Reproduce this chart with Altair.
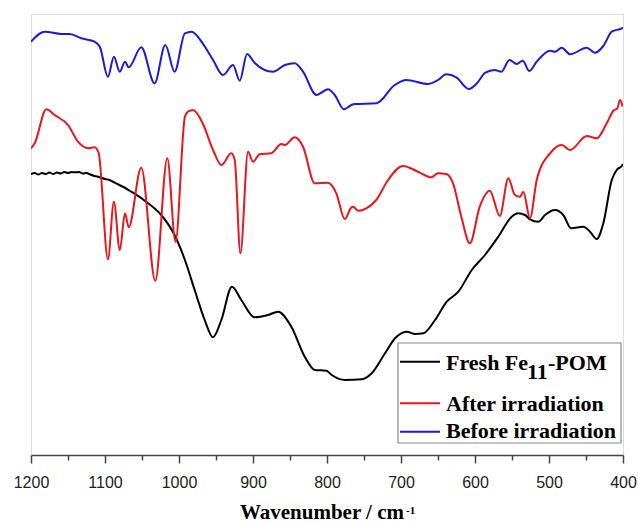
import altair as alt
import pandas as pd

# ---- data (wavenumber in cm-1, transmittance in arbitrary units) ----
wn_fresh = [1200, 1195, 1190, 1185, 1180, 1175, 1170, 1165, 1160, 1155, 1150, 1145, 1141, 1135,
            1130, 1125, 1120, 1114, 1108, 1100, 1094, 1087, 1075, 1064.5, 1046.3, 1024, 1006, 992,
            978.8, 965.3, 954, 942.8, 928.4, 915.8, 897.7, 879.7, 866.2, 848.2, 830.1, 816.6, 801,
            793.6, 775.7, 753, 739.6, 721.6, 708, 692.3, 681, 669.8, 654, 638.2, 622.5, 604.4,
            586.5, 568.5, 550.4, 541.5, 532.4, 525.7, 514.4, 505.4, 491.9, 480.7, 470.2, 453.6,
            444.6, 435.5, 426.6, 415.2, 408.5, 401.7, 400]
t_fresh = [281, 282, 280.5, 282, 281, 282.5, 281, 282.5, 281.5, 283, 282, 283, 282.7, 283,
           281.5, 282, 280.5, 279, 278, 276, 275, 272.3, 268, 263.3, 254.3, 240, 220, 195,
           165, 135, 117.7, 135, 168.3, 155, 137.7, 140, 143.3, 128.3, 98.3, 85, 84.3,
           80, 75, 75.7, 81.7, 101.7, 116.7, 123.3, 121, 121.7, 135, 153.3, 163.3, 185,
           200, 218.3, 238.3, 241.7, 240, 235.7, 233.3, 240, 245, 240, 226.7, 228.3,
           223.3, 216, 231.7, 275, 285, 289, 291]

wn_after = [1200, 1195, 1179.3, 1168, 1150, 1136.5, 1123, 1114, 1108.5, 1096, 1088, 1080, 1073,
            1068, 1051, 1032, 1015.8, 1004.7, 992, 987.8, 981, 968, 954, 942.8, 929.3, 924.7,
            917, 906.7, 900, 891, 875.3, 861.7, 857, 843.6, 832.4, 816.6, 798.6, 787.4, 776,
            767, 764.8, 758, 746.9, 733.4, 717.5, 697.3, 677, 659, 650, 638.8, 629.7, 618.5,
            607, 593.6, 580, 566.5, 555, 546, 539, 534.7, 525.7, 516.6, 498.6, 482.8, 471.6,
            449, 435.5, 422, 413, 407.7, 404, 400.4]
t_after = [306.7, 311.7, 345.7, 340, 330, 313.3, 306.7, 307.7, 301.7, 195.7, 253.3, 205, 241.7,
           227.7, 287.3, 174.3, 296.7, 213.3, 338.3, 343.3, 345, 331.7, 305, 290, 301.7, 295,
           201.7, 303.3, 293.3, 300.7, 301.7, 311, 310, 317.7, 308.3, 271.7, 272.3, 261.7, 236,
           247.7, 248.3, 244.3, 246.7, 255, 275, 289, 283.3, 277.7, 281.7, 281, 271.7, 238.3,
           211.7, 248.3, 264.3, 239, 276.7, 260, 258.3, 263.3, 236.7, 275, 301.7, 310, 305,
           319, 316.7, 331.7, 344.3, 346.7, 355, 348.3]

wn_before = [1200, 1181.5, 1159, 1147.7, 1132, 1114, 1107, 1096, 1088, 1080, 1073, 1068, 1051,
             1033, 1018.5, 1006, 992, 983, 968, 954, 940.5, 927, 918, 908, 898, 873, 857,
             843.6, 832.4, 814.4, 798.6, 789.6, 777, 767, 762.6, 733.4, 708.5, 692.8, 663.5,
             650, 638.8, 625.2, 608.5, 598.2, 586, 573.4, 564.4, 553.4, 543.6, 535.5, 526.6,
             516.6, 498.6, 491.9, 482.8, 471.6, 449, 437.8, 426.6, 415.2, 401.7, 400]
t_before = [413.3, 423.3, 421, 421, 416.7, 413.3, 408.3, 378.3, 398.3, 383.3, 393.3, 387.7, 407.7,
            371.7, 410, 383.3, 421.7, 423.3, 411.7, 395, 380, 390, 374.3, 401, 392.3, 383.3, 390,
            391.7, 383.3, 360, 365.7, 360, 345.7, 350, 351, 351.7, 370, 375, 371,
            375, 380.7, 377.7, 366, 371, 382.3, 385, 383.3, 395, 391, 394.3, 384,
            393.3, 404.3, 403.3, 407.3, 400.7, 407.3, 402.3, 409, 423.3, 426.7, 427.5]

series_names = ["Fresh Fe11-POM", "After irradiation", "Before irradiation"]
series_colors = ["#000000", "#e8161b", "#1a1ad8"]
x_ticks = list(range(400, 1201, 50))

rows = []
for name, xs, ys in [(series_names[0], wn_fresh, t_fresh),
                     (series_names[1], wn_after, t_after),
                     (series_names[2], wn_before, t_before)]:
    rows += [{"series": name, "wn": x, "t": y} for x, y in zip(xs, ys)]
df = pd.DataFrame(rows)

W, H = 592, 441
one = pd.DataFrame({"k": [0]})

lines = alt.Chart(df).mark_line(strokeWidth=2, interpolate="monotone", clip=True).encode(
    x=alt.X("wn:Q",
            scale=alt.Scale(domain=[1200, 400], nice=False, zero=False),
            axis=alt.Axis(values=x_ticks, title=None, format="d", grid=False,
                          labelFlush=False, labelOverlap=False, labelBound=False,
                          labelExpr="datum.value % 100 === 0 ? datum.label : ''",
                          tickSize={"condition": {"test": "datum.value % 100 === 0", "value": 8},
                                    "value": 5},
                          labelFont="Liberation Sans", labelFontSize=16, labelColor="#222222",
                          labelPadding=11, domainColor="#444444", domainWidth=1.5,
                          tickColor="#444444", tickWidth=1.5)),
    y=alt.Y("t:Q", scale=alt.Scale(domain=[0, 441], nice=False, zero=False), axis=None),
    color=alt.Color("series:N", scale=alt.Scale(domain=series_names, range=series_colors),
                    legend=None),
)

font = "Liberation Serif"
layers = [lines]

# legend box
layers.append(alt.Chart(one).mark_rect(fill="white", stroke="#8a8a8a", strokeWidth=1.2).encode(
    x=alt.value(367), x2=alt.value(590), y=alt.value(329), y2=alt.value(429)))
legend_y = [347.7, 389.3, 417.7]
legend_base = [355.5, 396.5, 424]
for c, ly in zip(series_colors, legend_y):
    layers.append(alt.Chart(one).mark_rule(color=c, strokeWidth=2).encode(
        x=alt.value(369), x2=alt.value(409), y=alt.value(ly)))

txt = dict(font=font, fontWeight="bold", fontSize=22, baseline="alphabetic", color="black")
layers.append(alt.Chart(one).mark_text(align="left", **txt).encode(
    x=alt.value(415), y=alt.value(legend_base[0]), text=alt.value("Fresh Fe")))
layers.append(alt.Chart(one).mark_text(align="left", **txt).encode(
    x=alt.value(496), y=alt.value(legend_base[0] + 9), text=alt.value("11")))
layers.append(alt.Chart(one).mark_text(align="left", **txt).encode(
    x=alt.value(517), y=alt.value(legend_base[0]), text=alt.value("-POM")))
layers.append(alt.Chart(one).mark_text(align="left", **txt).encode(
    x=alt.value(415), y=alt.value(legend_base[1]), text=alt.value("After irradiation")))
layers.append(alt.Chart(one).mark_text(align="left", **txt).encode(
    x=alt.value(415), y=alt.value(legend_base[2]), text=alt.value("Before irradiation")))

# axis title with superscript
layers.append(alt.Chart(one).mark_text(align="right", font=font, fontWeight="bold", fontSize=21,
                                       baseline="alphabetic", color="black").encode(
    x=alt.value(373), y=alt.value(505), text=alt.value("Wavenumber / cm")))
layers.append(alt.Chart(one).mark_text(align="left", font=font, fontWeight="bold", fontSize=11,
                                       baseline="alphabetic", color="black").encode(
    x=alt.value(375), y=alt.value(500), text=alt.value("-1")))

chart = alt.layer(*layers).properties(
    width=W, height=H,
    autosize=alt.AutoSizeParams(type="none"),
    padding={"left": 31, "top": 14, "right": 15, "bottom": 69},
).configure_view(stroke="#555555", strokeWidth=1.5).configure(background="white")

chart.save("out.html", embed_options={"renderer": "svg", "actions": False})
